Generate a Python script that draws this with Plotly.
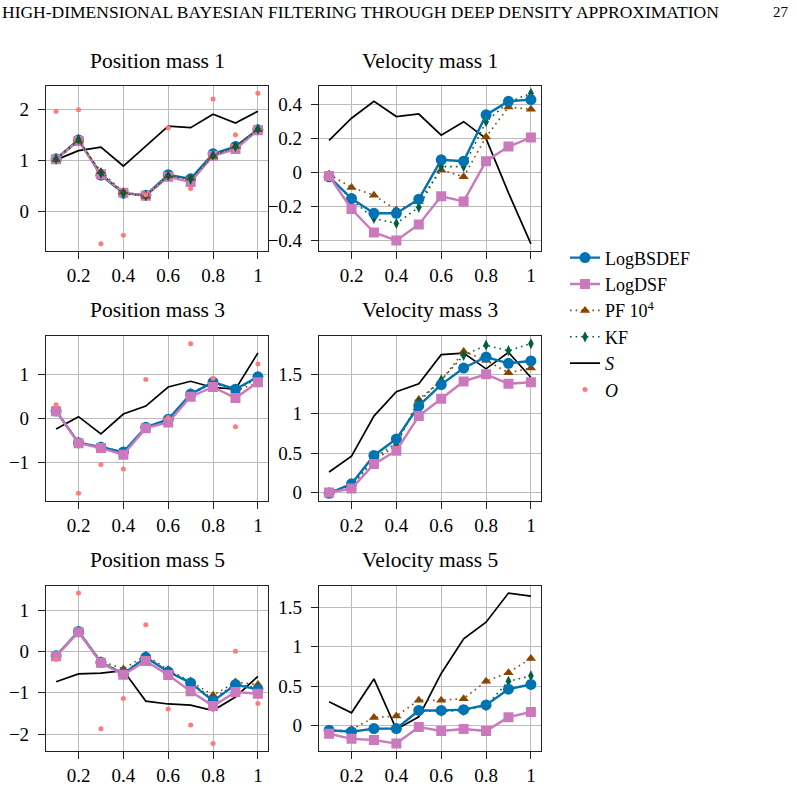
import plotly.graph_objects as go

# ---------------- data ----------------
t = [0.1, 0.2, 0.3, 0.4, 0.5, 0.6, 0.7, 0.8, 0.9, 1.0]

# Position mass 1
p1_bsdef = [1.03, 1.40, 0.71, 0.36, 0.32, 0.72, 0.64, 1.13, 1.27, 1.60]
p1_dsf   = [1.02, 1.38, 0.73, 0.37, 0.31, 0.68, 0.58, 1.09, 1.22, 1.59]
p1_pf    = [1.01, 1.38, 0.78, 0.38, 0.30, 0.70, 0.65, 1.08, 1.27, 1.60]
p1_kf    = [1.03, 1.41, 0.75, 0.35, 0.31, 0.70, 0.63, 1.10, 1.27, 1.61]
p1_s     = [1.01, 1.19, 1.26, 0.89, 1.28, 1.67, 1.64, 1.90, 1.73, 1.96]
p1_o     = [1.96, 1.99, -0.63, -0.46, 0.33, 1.63, 0.45, 2.20, 1.50, 2.31]

# Velocity mass 1
v1_bsdef = [-0.025, -0.153, -0.24, -0.24, -0.157, 0.075, 0.067, 0.34, 0.42, 0.43]
v1_dsf   = [-0.02, -0.215, -0.353, -0.40, -0.306, -0.14, -0.17, 0.067, 0.153, 0.206]
v1_pf    = [-0.01, -0.088, -0.133, -0.22, -0.17, 0.015, -0.025, 0.21, 0.386, 0.373]
v1_kf    = [-0.02, -0.16, -0.27, -0.30, -0.205, 0.035, 0.035, 0.30, 0.415, 0.467]
v1_s     = [0.19, 0.32, 0.42, 0.33, 0.345, 0.22, 0.30, 0.20, -0.12, -0.42]

# Position mass 3
p3_bsdef = [0.17, -0.55, -0.65, -0.76, -0.20, -0.02, 0.55, 0.82, 0.66, 0.94]
p3_dsf   = [0.16, -0.56, -0.67, -0.82, -0.22, -0.09, 0.49, 0.71, 0.46, 0.82]
p3_pf    = [0.16, -0.55, -0.64, -0.77, -0.21, -0.03, 0.54, 0.80, 0.63, 0.80]
p3_kf    = [0.17, -0.54, -0.64, -0.76, -0.20, -0.03, 0.56, 0.83, 0.64, 0.90]
p3_s     = [-0.24, 0.04, -0.35, 0.10, 0.28, 0.71, 0.84, 0.70, 0.66, 1.48]
p3_o     = [0.31, -1.69, -1.04, -1.14, 0.88, 0.02, 1.69, 0.91, -0.19, 1.23]

# Velocity mass 3
v3_bsdef = [-0.01, 0.11, 0.47, 0.68, 1.10, 1.37, 1.58, 1.72, 1.64, 1.67]
v3_dsf   = [0.0, 0.05, 0.36, 0.53, 0.97, 1.19, 1.41, 1.50, 1.38, 1.40]
v3_pf    = [0.0, 0.08, 0.40, 0.60, 1.18, 1.42, 1.79, 1.68, 1.52, 1.58]
v3_kf    = [0.0, 0.10, 0.43, 0.63, 1.15, 1.43, 1.74, 1.87, 1.80, 1.89]
v3_s     = [0.26, 0.46, 0.97, 1.28, 1.38, 1.75, 1.77, 1.57, 1.78, 1.46]

# Position mass 5
p5_bsdef = [-0.10, 0.49, -0.26, -0.54, -0.14, -0.49, -0.76, -1.20, -0.80, -0.92]
p5_dsf   = [-0.11, 0.47, -0.27, -0.56, -0.23, -0.57, -0.96, -1.32, -0.98, -1.02]
p5_pf    = [-0.10, 0.48, -0.23, -0.42, -0.09, -0.44, -0.72, -1.06, -0.74, -0.80]
p5_kf    = [-0.10, 0.49, -0.25, -0.52, -0.12, -0.47, -0.74, -1.16, -0.78, -0.88]
p5_s     = [-0.73, -0.54, -0.52, -0.46, -1.20, -1.27, -1.30, -1.43, -1.10, -0.60]
p5_o     = [-0.19, 1.42, -1.87, -1.14, 0.65, -1.39, -1.78, -2.23, 0.01, -1.26]

# Velocity mass 5
v5_bsdef = [-0.06, -0.08, -0.04, -0.04, 0.19, 0.19, 0.20, 0.26, 0.46, 0.52]
v5_dsf   = [-0.105, -0.17, -0.185, -0.23, -0.02, -0.07, -0.045, -0.07, 0.105, 0.17]
v5_pf    = [-0.08, -0.05, 0.10, 0.12, 0.32, 0.32, 0.34, 0.56, 0.67, 0.85]
v5_kf    = [-0.07, -0.08, -0.04, -0.04, 0.18, 0.18, 0.19, 0.25, 0.56, 0.63]
v5_s     = [0.30, 0.16, 0.59, -0.05, 0.11, 0.66, 1.10, 1.31, 1.68, 1.64]

titles = ["Position mass 1", "Velocity mass 1", "Position mass 3",
          "Velocity mass 3", "Position mass 5", "Velocity mass 5"]
xtick_vals = [0.2, 0.4, 0.6, 0.8, 1.0]
xtick_text = ["0.2", "0.4", "0.6", "0.8", "1"]
ytick_vals = [[0, 1, 2], [-0.4, -0.2, 0, 0.2, 0.4], [-1, 0, 1],
              [0, 0.5, 1, 1.5], [-2, -1, 0, 1], [0, 0.5, 1, 1.5]]
ytick_text = [["0", "1", "2"], ["−0.4", "−0.2", "0", "0.2", "0.4"], ["−1", "0", "1"],
              ["0", "0.5", "1", "1.5"], ["−2", "−1", "0", "1"], ["0", "0.5", "1", "1.5"]]
header_text = "HIGH-DIMENSIONAL BAYESIAN FILTERING THROUGH DEEP DENSITY APPROXIMATION"
page_number = "27"

panels = [
    dict(bsdef=p1_bsdef, dsf=p1_dsf, pf=p1_pf, kf=p1_kf, s=p1_s, o=p1_o),
    dict(bsdef=v1_bsdef, dsf=v1_dsf, pf=v1_pf, kf=v1_kf, s=v1_s, o=None),
    dict(bsdef=p3_bsdef, dsf=p3_dsf, pf=p3_pf, kf=p3_kf, s=p3_s, o=p3_o),
    dict(bsdef=v3_bsdef, dsf=v3_dsf, pf=v3_pf, kf=v3_kf, s=v3_s, o=None),
    dict(bsdef=p5_bsdef, dsf=p5_dsf, pf=p5_pf, kf=p5_kf, s=p5_s, o=p5_o),
    dict(bsdef=v5_bsdef, dsf=v5_dsf, pf=v5_pf, kf=v5_kf, s=v5_s, o=None),
]

# ---------------- styles ----------------
FONT = "Liberation Serif, Times New Roman, serif"
C_BSDEF = "#0173B2"
C_DSF = "#CC78BC"
C_PF = "#8A4500"
C_KF = "#00603C"
C_S = "#000000"
C_O = "#FF7B7B"

styles = {
    "bsdef": dict(name="LogBSDEF", mode="lines+markers",
                  line=dict(color=C_BSDEF, width=2.4),
                  marker=dict(symbol="circle", size=11, color=C_BSDEF), rank=1),
    "dsf": dict(name="LogDSF", mode="lines+markers",
                line=dict(color=C_DSF, width=2.4),
                marker=dict(symbol="square", size=10, color=C_DSF), rank=2),
    "pf": dict(name="PF 10<sup>4</sup>", mode="lines+markers",
               line=dict(color=C_PF, width=1.6, dash="1.6px,4px"),
               marker=dict(symbol="triangle-up", size=9, color=C_PF), rank=3),
    "kf": dict(name="KF", mode="lines+markers",
               line=dict(color=C_KF, width=1.6, dash="1.6px,4px"),
               marker=dict(symbol="diamond-tall", size=8, color=C_KF), rank=4),
    "s": dict(name="<i>S</i>", mode="lines",
              line=dict(color=C_S, width=1.7), marker=None, rank=5),
    "o": dict(name="<i>O</i>", mode="markers", line=None,
              marker=dict(symbol="circle", size=5, color=C_O), rank=6),
}

# drawing order per panel
orders = [
    ["s", "bsdef", "dsf", "pf", "kf", "o"],
    ["s", "pf", "kf", "bsdef", "dsf", "o"],
    ["s", "pf", "kf", "bsdef", "dsf", "o"],
    ["s", "pf", "kf", "bsdef", "dsf", "o"],
    ["s", "pf", "kf", "bsdef", "dsf", "o"],
    ["s", "pf", "kf", "bsdef", "dsf", "o"],
]

W, H = 797, 789
col_px = [(46, 268), (319, 541)]
row_px = [(86, 252), (337, 502), (587, 753)]
title_y_px = [61, 311, 561]

fig = go.Figure()
layout = dict(
    width=W, height=H, margin=dict(l=0, r=0, t=0, b=0),
    paper_bgcolor="white", plot_bgcolor="white",
    font=dict(family=FONT, size=19, color="black"),
    showlegend=True,
    legend=dict(x=565 / W, y=1 - 240 / H, xanchor="left", yanchor="top",
                font=dict(family=FONT, size=18), bgcolor="rgba(0,0,0,0)",
                tracegroupgap=0, itemwidth=30),
)
annotations = []

for i, pdata in enumerate(panels):
    r, c = divmod(i, 2)
    ax = "" if i == 0 else str(i + 1)
    xref, yref = "x" + ax, "y" + ax
    x0, x1 = col_px[c]
    y0, y1 = row_px[r]

    vals = [v for k in ["bsdef", "dsf", "pf", "kf", "s", "o"] if pdata[k] is not None for v in pdata[k]]
    lo, hi = min(vals), max(vals)
    pad = 0.05 * (hi - lo)
    xpad = 0.05 * (max(t) - min(t))

    for key in orders[i]:
        ys = pdata[key]
        if ys is None:
            continue
        st = styles[key]
        kw = dict(x=t, y=ys, name=st["name"], mode=st["mode"], xaxis=xref, yaxis=yref,
                  legendgroup=key, showlegend=(i == 0), legendrank=st["rank"])
        if st["line"] is not None:
            kw["line"] = st["line"]
        if st["marker"] is not None:
            kw["marker"] = st["marker"]
        fig.add_trace(go.Scatter(**kw))

    axis_common = dict(showline=True, linecolor="#222222", linewidth=1.2, mirror=True,
                       showgrid=True, gridcolor="#BBBBBB", gridwidth=1,
                       ticks="outside", ticklen=7, tickwidth=1.1, tickcolor="#222222",
                       zeroline=False, tickfont=dict(family=FONT, size=19, color="black"))
    layout["xaxis" + ax] = dict(axis_common, domain=[x0 / W, x1 / W],
                                range=[min(t) - xpad, max(t) + xpad],
                                tickvals=xtick_vals, ticktext=xtick_text,
                                anchor=yref)
    layout["yaxis" + ax] = dict(axis_common, domain=[1 - y1 / H, 1 - y0 / H],
                                range=[lo - pad, hi + pad],
                                tickvals=ytick_vals[i], ticktext=ytick_text[i],
                                anchor=xref, ticklabelstandoff=5)
    annotations.append(dict(text=titles[i], x=(x0 + x1) / 2 / W, y=1 - title_y_px[r] / H,
                            xref="paper", yref="paper", xanchor="center", yanchor="middle",
                            showarrow=False, font=dict(family=FONT, size=21.5, color="black")))

annotations.append(dict(text=header_text, x=0.0, y=1 - 12 / H, xref="paper", yref="paper",
                        xanchor="left", yanchor="middle", showarrow=False,
                        font=dict(family=FONT, size=17.5, color="black")))
annotations.append(dict(text=page_number, x=791 / W, y=1 - 12 / H, xref="paper", yref="paper",
                        xanchor="right", yanchor="middle", showarrow=False,
                        font=dict(family=FONT, size=15, color="black")))
layout["annotations"] = annotations
fig.update_layout(**layout)
fig.write_html("out.html")
